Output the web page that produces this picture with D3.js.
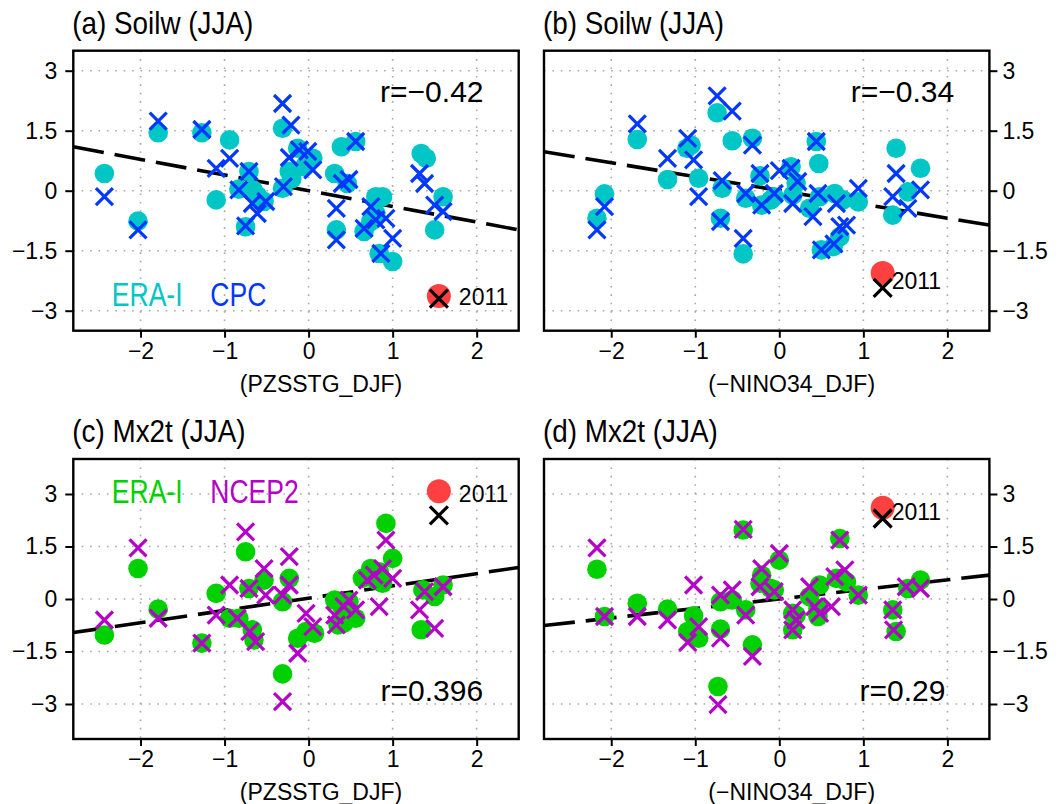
<!DOCTYPE html>
<html><head><meta charset="utf-8">
<script src="https://cdn.jsdelivr.net/npm/d3@7"></script>
<style>
body{margin:0;background:#fff}
svg{display:block}
text{font-family:"Liberation Sans",Arial,sans-serif;fill:#000}
</style>
</head><body>
<svg id="chart" width="1063" height="804"></svg>
<script>
// ---------------- data ----------------
const xDomain = [-2.8, 2.5];
const xTicks = [-2, -1, 0, 1, 2];
const yTicks = [3, 1.5, 0, -1.5, -3];

// (a) Soilw vs PZSSTG
const soilwPZ_era = [[-2.43,0.43],[-2.03,-0.76],[-1.79,1.45],[-1.27,1.45],[-1.10,-0.23],[-0.94,1.27],[-0.71,0.48],[-0.83,0.04],[-0.75,-0.90],[-0.66,0.02],[-0.61,-0.12],[-0.53,-0.27],[-0.31,1.56],[-0.23,0.48],[-0.20,0.30],[-0.13,1.06],[0.05,0.81],[-0.05,0.60],[-0.31,0.06],[0.39,1.10],[0.56,1.23],[0.31,0.43],[0.46,0.18],[0.33,-0.98],[0.80,-0.15],[0.88,-0.15],[0.74,-0.77],[0.66,-1.02],[0.84,-1.57],[1.00,-1.77],[0.80,-0.57],[1.34,0.93],[1.40,0.81],[1.60,-0.15],[1.50,-0.98]];
const soilwPZ_cpc = [[-2.43,-0.15],[-2.03,-0.98],[-1.79,1.74],[-1.27,1.53],[-1.10,0.56],[-0.94,0.81],[-0.71,0.48],[-0.83,0.02],[-0.75,-0.88],[-0.61,-0.57],[-0.67,-0.32],[-0.51,-0.27],[-0.31,2.18],[-0.21,1.64],[-0.23,0.83],[-0.30,0.10],[-0.11,1.02],[-0.01,0.98],[0.05,0.52],[0.56,1.23],[0.40,0.18],[0.48,0.28],[0.33,-0.44],[0.33,-1.23],[0.74,-0.40],[0.66,-0.94],[0.80,-0.73],[0.92,-0.69],[0.86,-1.57],[1.00,-1.19],[1.32,0.43],[1.38,0.18],[1.50,-0.36],[1.60,-0.52]];
const soilwPZ_2011 = [1.55, -2.63, -2.70];   // x, ERA-I, CPC
const soilwPZ_fit = [-0.392, 0.0];           // slope, intercept

// (b) Soilw vs -NINO34
const soilwNino_era = [[-2.08,-0.08],[-2.17,-0.69],[-1.69,1.28],[-1.33,0.28],[-1.05,1.14],[-1.10,1.06],[-0.96,0.31],[-0.74,1.95],[-0.56,1.25],[-0.32,1.31],[-0.68,0.06],[-0.70,-0.69],[-0.43,-1.58],[-0.40,-0.19],[-0.23,0.37],[-0.21,-0.36],[-0.10,-0.23],[-0.06,-0.15],[0.14,0.60],[0.20,0.19],[0.16,-0.11],[0.44,1.23],[0.47,0.68],[0.36,-0.44],[0.48,-0.15],[0.66,-0.07],[0.72,-1.15],[0.64,-1.40],[0.50,-1.48],[0.94,-0.28],[1.39,1.06],[1.68,0.56],[1.53,-0.03],[1.35,-0.61],[0.76,-0.23]];
const soilwNino_cpc = [[-2.08,-0.40],[-2.17,-0.98],[-1.69,1.67],[-1.33,0.81],[-1.09,1.31],[-1.02,0.77],[-0.96,-0.15],[-0.74,2.37],[-0.56,1.99],[-0.32,1.14],[-0.68,0.25],[-0.70,-0.77],[-0.43,-1.19],[-0.40,-0.07],[-0.23,0.43],[-0.21,-0.36],[-0.06,-0.07],[0.00,0.50],[0.14,0.56],[0.22,0.23],[0.16,-0.32],[0.44,1.23],[0.46,-0.07],[0.40,-0.65],[0.68,-0.32],[0.72,-0.90],[0.80,-0.86],[0.65,-1.33],[0.50,-1.48],[0.94,0.06],[1.39,0.43],[1.35,-0.15],[1.53,-0.44],[1.68,0.02]];
const soilwNino_2011 = [1.23, -2.06, -2.43];
const soilwNino_fit = [-0.346, 0.006];

// (c) Mx2t vs PZSSTG
const mx2tPZ_era = [[-2.43,-1.03],[-2.03,0.87],[-1.79,-0.29],[-1.27,-1.26],[-1.10,0.16],[-0.94,-0.55],[-0.75,1.35],[-0.71,0.30],[-0.83,-0.55],[-0.67,-0.88],[-0.65,-1.17],[-0.53,0.54],[-0.23,0.59],[-0.31,-0.08],[-0.31,-2.14],[-0.13,-1.12],[0.07,-0.98],[-0.03,-0.93],[0.31,-0.03],[0.35,-0.74],[0.42,-0.69],[0.56,-0.55],[0.40,-0.22],[0.48,-0.08],[0.64,0.59],[0.74,0.87],[0.80,0.54],[0.88,0.45],[0.92,2.16],[1.00,1.16],[0.84,0.78],[1.34,-0.88],[1.36,0.26],[1.50,0.07],[1.60,0.40]];
const mx2tPZ_ncep = [[-2.43,-0.60],[-2.03,1.46],[-1.79,-0.55],[-1.27,-1.26],[-1.10,-0.46],[-0.94,0.40],[-0.75,1.92],[-0.71,0.30],[-0.85,-0.55],[-0.70,-0.93],[-0.63,-1.22],[-0.53,0.87],[-0.51,0.11],[-0.23,1.21],[-0.23,0.40],[-0.31,0.11],[-0.31,-2.93],[-0.13,-1.55],[-0.03,-0.41],[0.05,-0.79],[0.31,-0.46],[0.33,-0.74],[0.42,-0.22],[0.48,-0.03],[0.56,-0.31],[0.70,0.54],[0.78,0.68],[0.88,0.87],[0.84,-0.22],[0.92,1.68],[1.00,0.59],[1.32,-0.31],[1.38,0.21],[1.50,-0.84],[1.60,0.35]];
const mx2tPZ_2011 = [1.55, 3.08, 2.39];
const mx2tPZ_fit = [0.351, 0.023];

// (d) Mx2t vs -NINO34
const mx2tNino_era = [[-2.17,0.85],[-2.08,-0.50],[-1.69,-0.12],[-1.33,-0.29],[-1.02,-0.48],[-1.09,-0.93],[-0.96,-1.12],[-0.70,-0.08],[-0.70,-0.86],[-0.73,-2.50],[-0.43,1.97],[-0.56,-0.03],[-0.40,-0.31],[-0.32,-1.31],[-0.21,0.68],[-0.23,0.45],[-0.10,0.30],[-0.06,0.26],[0.00,1.11],[0.16,-0.41],[0.20,-0.46],[0.16,-0.88],[0.36,0.07],[0.46,-0.27],[0.46,-0.50],[0.48,0.40],[0.68,0.59],[0.72,1.73],[0.80,0.49],[0.94,0.11],[1.35,-0.31],[1.39,-0.93],[1.53,0.30],[1.68,0.54]];
const mx2tNino_ncep = [[-2.17,1.46],[-2.08,-0.50],[-1.69,-0.50],[-1.33,-0.60],[-1.02,0.40],[-1.09,-1.24],[-0.96,-0.79],[-0.70,0.11],[-0.70,-1.12],[-0.73,-3.02],[-0.43,1.99],[-0.56,0.26],[-0.40,-0.46],[-0.32,-1.64],[-0.21,0.87],[-0.23,0.35],[0.00,1.30],[-0.06,0.21],[0.16,-0.31],[0.20,-0.60],[0.16,-0.88],[0.36,0.35],[0.42,-0.22],[0.48,-0.41],[0.62,-0.22],[0.66,0.64],[0.78,0.83],[0.72,1.68],[0.94,0.11],[1.35,-0.31],[1.36,-0.88],[1.51,0.35],[1.68,0.30]];
const mx2tNino_2011 = [1.23, 2.61, 2.30];
const mx2tNino_fit = [0.272, 0.002];

// ---------------- drawing ----------------
const svg = d3.select("#chart");
const fmt = v => (v < 0 ? "\u2212" : "") + Math.abs(v);
const W = 445.4, H = 280;

const panels = [
  {left:73.3, top:50.7, yDom:[-3.5,3.5], side:"left", title:"(a) Soilw (JJA)", xlabel:"(PZSSTG_DJF)",
   circ:soilwPZ_era, cross:soilwPZ_cpc, y11:soilwPZ_2011, fit:soilwPZ_fit, c1:"#00C6C6", c2:"#0038FF",
   r:"r=\u22120.42", rY:51, leg:["ERA-I","CPC"], legY:255.5, lab11:[20, 9]},
  {left:544, top:50.7, yDom:[-3.5,3.5], side:"right", title:"(b) Soilw (JJA)", xlabel:"(\u2212NINO34_DJF)",
   circ:soilwNino_era, cross:soilwNino_cpc, y11:soilwNino_2011, fit:soilwNino_fit, c1:"#00C6C6", c2:"#0038FF",
   r:"r=\u22120.34", rY:51, leg:null, lab11:[9, 16]},
  {left:73.3, top:459, yDom:[-4,4], side:"left", title:"(c) Mx2t (JJA)", xlabel:"(PZSSTG_DJF)",
   circ:mx2tPZ_era, cross:mx2tPZ_ncep, y11:mx2tPZ_2011, fit:mx2tPZ_fit, c1:"#00D000", c2:"#B400C8",
   r:"r=0.396", rY:242, leg:["ERA-I","NCEP2"], legY:43.7, lab11:[20, 11]},
  {left:544, top:459, yDom:[-4,4], side:"right", title:"(d) Mx2t (JJA)", xlabel:"(\u2212NINO34_DJF)",
   circ:mx2tNino_era, cross:mx2tNino_ncep, y11:mx2tNino_2011, fit:mx2tNino_fit, c1:"#00D000", c2:"#B400C8",
   r:"r=0.29", rY:242, leg:null, lab11:[9, 12]}
];

function drawX(g, cx, cy, s, color) {
  g.append("path")
    .attr("d", `M${cx-s},${cy-s}L${cx+s},${cy+s}M${cx-s},${cy+s}L${cx+s},${cy-s}`)
    .attr("stroke", color).attr("stroke-width", 3.2).attr("fill", "none");
}

panels.forEach(p => {
  const x = d3.scaleLinear().domain(xDomain).range([p.left, p.left + W]);
  const y = d3.scaleLinear().domain(p.yDom).range([p.top + H, p.top]);
  const g = svg.append("g");

  // grid
  g.selectAll(".gx").data(xTicks).join("line")
    .attr("x1", d => x(d)).attr("x2", d => x(d)).attr("y1", p.top).attr("y2", p.top + H)
    .attr("stroke", "#a8a8a8").attr("stroke-width", 1.6).attr("stroke-dasharray", "1.6,6.8");
  g.selectAll(".gy").data(yTicks).join("line")
    .attr("x1", p.left).attr("x2", p.left + W).attr("y1", d => y(d)).attr("y2", d => y(d))
    .attr("stroke", "#a8a8a8").attr("stroke-width", 1.6).attr("stroke-dasharray", "1.6,6.8");

  // axes
  const xa = g.append("g").attr("transform", `translate(0,${p.top + H})`)
    .call(d3.axisBottom(x).tickValues(xTicks).tickSize(7).tickPadding(5).tickFormat(fmt));
  const ya = (p.side === "left")
    ? g.append("g").attr("transform", `translate(${p.left},0)`)
        .call(d3.axisLeft(y).tickValues(yTicks).tickSize(8).tickPadding(8).tickFormat(fmt))
    : g.append("g").attr("transform", `translate(${p.left + W},0)`)
        .call(d3.axisRight(y).tickValues(yTicks).tickSize(8).tickPadding(5).tickFormat(fmt));
  [xa, ya].forEach(a => {
    a.select(".domain").remove();
    a.selectAll(".tick line").attr("stroke", "#000").attr("stroke-width", 2);
    a.selectAll(".tick text").attr("font-size", 23).attr("font-family", "Liberation Sans, Arial, sans-serif").attr("fill", "#000");
  });

  // regression line
  const clipId = "clip" + p.title[1];
  svg.append("clipPath").attr("id", clipId).append("rect")
    .attr("x", p.left).attr("y", p.top).attr("width", W).attr("height", H);
  const line = d3.line().x(d => x(d)).y(d => y(p.fit[0] * d + p.fit[1]));
  g.append("path").datum(xDomain).attr("d", line).attr("clip-path", `url(#${clipId})`)
    .attr("stroke", "#000").attr("stroke-width", 3.6).attr("fill", "none").attr("stroke-dasharray", "31,11");

  // markers
  g.selectAll(".pc").data(p.circ).join("circle")
    .attr("cx", d => x(d[0])).attr("cy", d => y(d[1])).attr("r", 9.8).attr("fill", p.c1);
  p.cross.forEach(d => drawX(g, x(d[0]), y(d[1]), 8.5, p.c2));

  // 2011
  g.append("circle").attr("cx", x(p.y11[0])).attr("cy", y(p.y11[1])).attr("r", 12).attr("fill", "#FF4040");
  drawX(g, x(p.y11[0]), y(p.y11[2]), 9, "#000");
  g.append("text").attr("x", x(p.y11[0]) + p.lab11[0]).attr("y", y(p.y11[1]) + p.lab11[1])
    .attr("font-size", 23).text("2011");

  // frame
  g.append("rect").attr("x", p.left).attr("y", p.top).attr("width", W).attr("height", H)
    .attr("fill", "none").attr("stroke", "#000").attr("stroke-width", 2.4);

  // title, x label
  g.append("text").attr("transform", `translate(${p.left - 1},${p.top - 17}) scale(0.87,1)`)
    .attr("font-size", 32).text(p.title);
  g.append("text").attr("x", p.left + W / 2 + 25).attr("y", p.top + H + 61)
    .attr("text-anchor", "middle").attr("font-size", 23).text(p.xlabel);

  // r label
  g.append("text").attr("x", p.left + 358.5).attr("y", p.top + p.rY)
    .attr("text-anchor", "middle").attr("font-size", 30).text(p.r);

  // legend
  if (p.leg) {
    g.append("text").attr("transform", `translate(${p.left + 38.5},${p.top + p.legY}) scale(0.78,1)`)
      .attr("font-size", 34).style("fill", p.c1).text(p.leg[0]);
    g.append("text").attr("transform", `translate(${p.left + 137},${p.top + p.legY}) scale(0.78,1)`)
      .attr("font-size", 34).style("fill", p.c2).text(p.leg[1]);
  }
});
</script>
</body></html>
